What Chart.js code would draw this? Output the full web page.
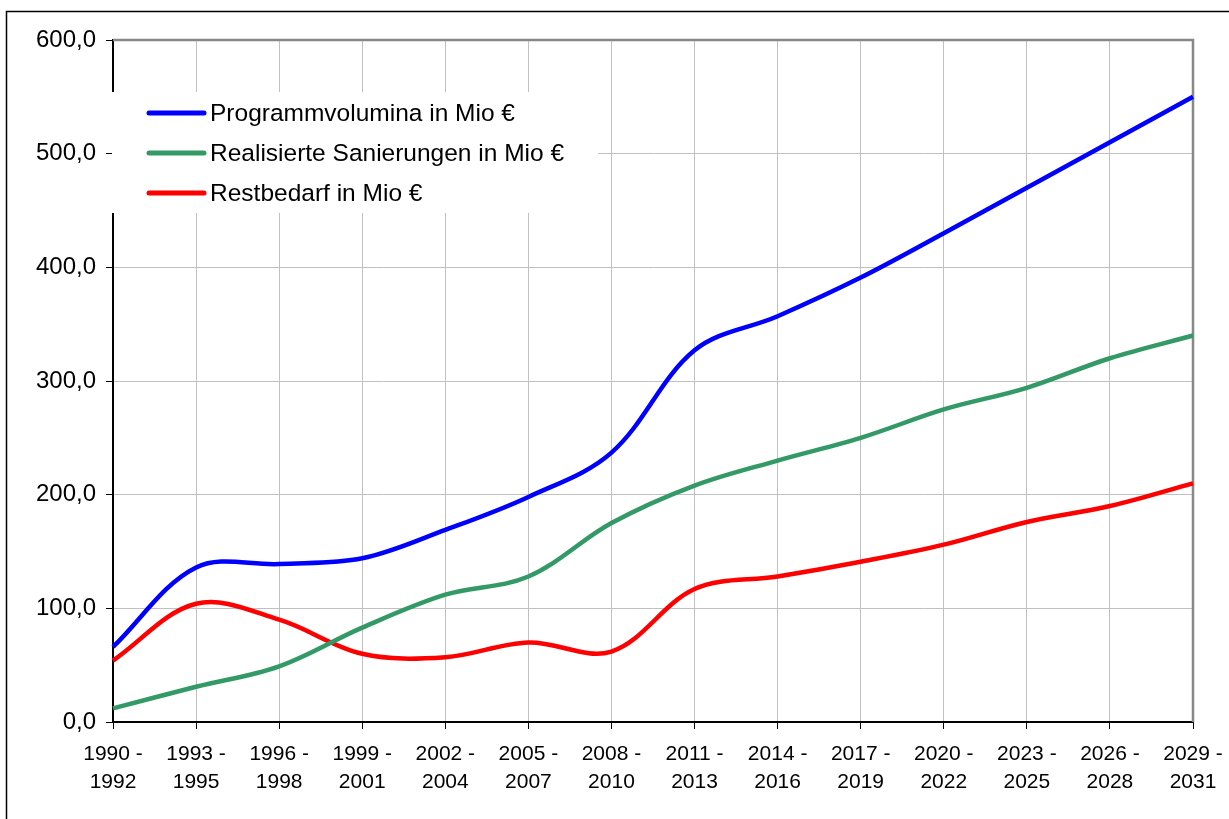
<!DOCTYPE html>
<html>
<head>
<meta charset="utf-8">
<script src="https://cdn.jsdelivr.net/npm/chart.js@4"></script>
<style>
  html, body { margin: 0; padding: 0; background: #fff; }
  canvas { display: block; }
</style>
</head>
<body>
<canvas id="stage" width="1229" height="819"></canvas>
<script>
// Zeiträume (x-Achse, zweizeilig)
const zeitraeume = [
    ['1990 -', '1992'], ['1993 -', '1995'], ['1996 -', '1998'], ['1999 -', '2001'],
    ['2002 -', '2004'], ['2005 -', '2007'], ['2008 -', '2010'], ['2011 -', '2013'],
    ['2014 -', '2016'], ['2017 -', '2019'], ['2020 -', '2022'], ['2023 -', '2025'],
    ['2026 -', '2028'], ['2029 -', '2031']
];

// Werte in Mio €
const programmvolumina = [66, 136, 139, 144, 169, 198, 237, 327, 357, 391, 430, 470, 510, 550];
const realisiert       = [12, 31, 49, 83, 112, 128, 175, 208, 230, 250, 275, 294, 320, 340];
const restbedarf       = [54, 104, 90, 60, 57, 70, 62, 117, 128, 141, 156, 176, 190, 210];

const yMax = 600;
const yStep = 100;

const schrift = '"Liberation Sans", Arial, sans-serif';

// Rahmen, Plotrand und Legende (Legende liegt im Diagramm)
const rahmenPlugin = {
    id: 'rahmen',
    beforeDraw(chart) {
        const ctx = chart.ctx;
        ctx.save();
        ctx.fillStyle = '#fff';
        ctx.fillRect(0, 0, chart.width, chart.height);
        ctx.strokeStyle = '#000';
        ctx.lineWidth = 1.5;
        ctx.strokeRect(6.5, 11.5, 1400, 1000);
        ctx.restore();
    },
    beforeDatasetsDraw(chart) {
        const ctx = chart.ctx;
        const a = chart.chartArea;
        ctx.save();
        // oberer und rechter Rand grau
        ctx.strokeStyle = '#888';
        ctx.lineWidth = 2.5;
        ctx.beginPath();
        ctx.moveTo(a.left, a.top);
        ctx.lineTo(a.right, a.top);
        ctx.lineTo(a.right, a.bottom);
        ctx.stroke();

        // Legende
        ctx.fillStyle = '#fff';
        ctx.fillRect(112, 92, 486, 121);
        ctx.font = '24.5px ' + schrift;
        ctx.textBaseline = 'middle';
        chart.data.datasets.forEach((ds, i) => {
            const y = 113 + 40 * i;
            ctx.strokeStyle = ds.borderColor;
            ctx.lineWidth = 5;
            ctx.lineCap = 'round';
            ctx.beginPath();
            ctx.moveTo(149, y);
            ctx.lineTo(204, y);
            ctx.stroke();
            ctx.fillStyle = '#000';
            ctx.fillText(ds.label, 210, y + 1);
        });
        ctx.restore();
    }
};

new Chart(document.getElementById('stage'), {
    type: 'line',
    data: {
        labels: zeitraeume,
        datasets: [{
            label: 'Programmvolumina in Mio €',
            data: programmvolumina,
            borderColor: '#0000ff',
        }, {
            label: 'Realisierte Sanierungen in Mio €',
            data: realisiert,
            borderColor: '#339966',
        }, {
            label: 'Restbedarf in Mio €',
            data: restbedarf,
            borderColor: '#ff0000',
        }]
    },
    options: {
        responsive: false,
        animation: false,
        devicePixelRatio: 1,
        layout: { padding: { left: 0, top: 40, right: 36, bottom: 0 } },
        elements: {
            line: { borderWidth: 4.5, tension: 0.35, fill: false },
            point: { radius: 0, hoverRadius: 0 }
        },
        plugins: {
            legend: { display: false },
            tooltip: { enabled: false }
        },
        scales: {
            x: {
                grid: { color: '#c0c0c0', lineWidth: 1, tickColor: '#000', tickLength: 7, drawTicks: true },
                border: { color: '#000', width: 2 },
                ticks: {
                    color: '#000',
                    font: { family: schrift, size: 21, lineHeight: 1.3 },
                    padding: 12,
                    maxRotation: 0,
                    autoSkip: false
                },
                afterFit(s) {
                    s.height = 97;
                    s.paddingLeft = 0;
                    s.paddingRight = 0;
                }
            },
            y: {
                min: 0,
                max: yMax,
                grid: { color: '#c0c0c0', lineWidth: 1, tickColor: '#000', tickLength: 7 },
                border: { color: '#000', width: 2 },
                ticks: {
                    stepSize: yStep,
                    color: '#000',
                    font: { family: schrift, size: 24 },
                    padding: 10,
                    callback: v => v.toFixed(1).replace('.', ',')
                },
                afterFit(s) {
                    s.width = 113;
                    s.paddingTop = 0;
                    s.paddingBottom = 0;
                }
            }
        }
    },
    plugins: [rahmenPlugin]
});
</script>
</body>
</html>
